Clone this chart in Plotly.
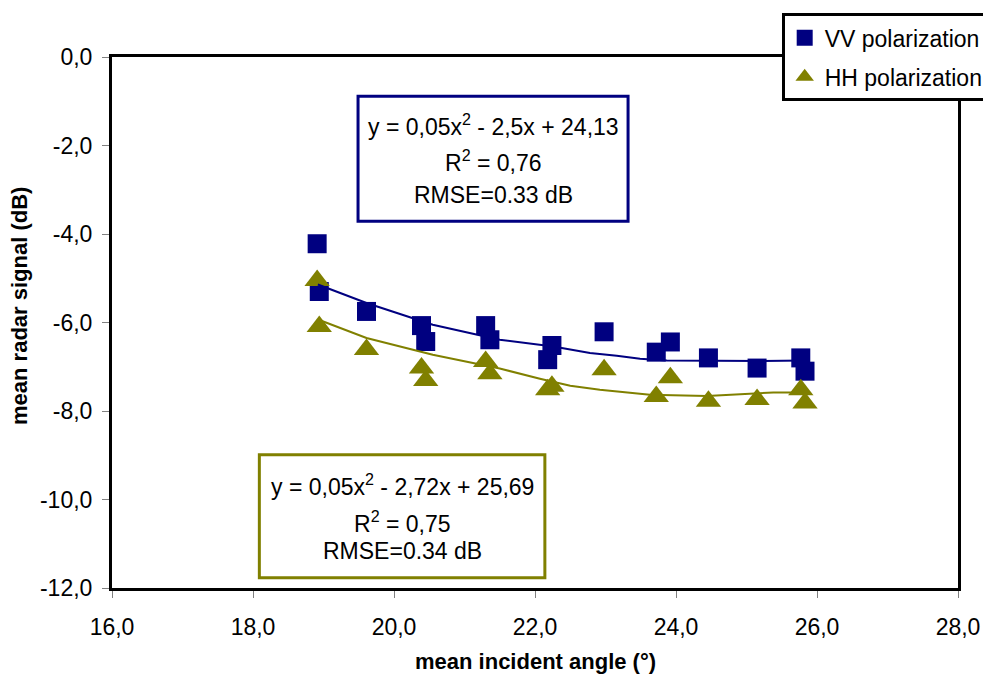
import plotly.graph_objects as go

# ---- data ----
angle = [18.91, 18.94, 19.61, 20.39, 20.45, 21.30, 21.36, 22.18, 22.24, 22.98,
         23.72, 23.92, 24.46, 25.15, 25.77, 25.83]
vv_signal = [-4.22, -5.30, -5.75, -6.07, -6.43, -6.07, -6.39, -6.84, -6.52, -6.21,
             -6.67, -6.44, -6.80, -7.03, -6.80, -7.10]
hh_signal = [-5.05, -6.09, -6.61, -7.03, -7.31, -6.88, -7.16, -7.52, -7.44, -7.07,
             -7.67, -7.25, -7.78, -7.74, -7.52, -7.82]

vv_trend_x = [18.92, 19.61, 20.55, 21.50, 22.26, 22.78, 23.16, 23.49, 23.87, 24.50, 25.20, 25.83]
vv_trend_y = [-5.14, -5.56, -6.05, -6.39, -6.54, -6.69, -6.75, -6.82, -6.86, -6.87, -6.87, -6.86]
hh_trend_x = [18.95, 19.61, 20.55, 21.50, 22.07, 22.50, 22.92, 23.20, 23.63, 24.44, 24.72, 25.38, 25.83]
hh_trend_y = [-5.95, -6.35, -6.73, -7.04, -7.27, -7.43, -7.52, -7.57, -7.63, -7.66, -7.64, -7.58, -7.58]

x_ticks = [16, 18, 20, 22, 24, 26, 28]
x_labels = ["16,0", "18,0", "20,0", "22,0", "24,0", "26,0", "28,0"]
y_ticks = [0, -2, -4, -6, -8, -10, -12]
y_labels = ["0,0", "-2,0", "-4,0", "-6,0", "-8,0", "-10,0", "-12,0"]

series_names = ["VV polarization", "HH polarization"]
vv_box_lines = ["y = 0,05x<sup>2</sup> - 2,5x + 24,13", "R<sup>2</sup> = 0,76", "RMSE=0.33 dB"]
hh_box_lines = ["y = 0,05x<sup>2</sup> - 2,72x + 25,69", "R<sup>2</sup> = 0,75", "RMSE=0.34 dB"]
x_title = "mean incident angle (°)"
y_title = "mean radar signal (dB)"

NAVY = "#000080"
OLIVE = "#808000"
FONT = "Liberation Sans, Arial, sans-serif"

fig = go.Figure()
fig.add_trace(go.Scatter(x=angle, y=vv_signal, mode="markers", name=series_names[0],
                         legendgroup="vv",
                         marker=dict(symbol="square", size=19, color=NAVY, line=dict(width=0))))
fig.add_trace(go.Scatter(x=angle, y=hh_signal, mode="markers", name=series_names[1],
                         legendgroup="hh",
                         marker=dict(symbol="triangle-up", size=22, color=OLIVE, line=dict(width=0))))
fig.add_trace(go.Scatter(x=vv_trend_x, y=vv_trend_y, mode="lines", showlegend=False,
                         line=dict(color=NAVY, width=2), hoverinfo="skip"))
fig.add_trace(go.Scatter(x=hh_trend_x, y=hh_trend_y, mode="lines", showlegend=False,
                         line=dict(color=OLIVE, width=2), hoverinfo="skip"))

axis_common = dict(showline=True, linewidth=3, linecolor="black", mirror=True,
                   ticks="outside", ticklen=7, tickwidth=1, tickcolor="#808080",
                   showgrid=False, zeroline=False,
                   tickfont=dict(family=FONT, size=23, color="black"))
fig.update_xaxes(range=[16, 28], tickmode="array", tickvals=x_ticks, ticktext=x_labels,
                 ticklabelstandoff=9, **axis_common)
fig.update_yaxes(range=[-12, 0], tickmode="array", tickvals=y_ticks, ticktext=y_labels,
                 ticklabelstandoff=5, **axis_common)

annotations = []
for txt, yv in zip(vv_box_lines, [-1.53, -2.36, -3.11]):
    annotations.append(dict(x=21.41, y=yv, xref="x", yref="y", text=txt, showarrow=False,
                            font=dict(family=FONT, size=23, color="black"),
                            xanchor="center", yanchor="middle"))
for txt, yv in zip(hh_box_lines, [-9.67, -10.50, -11.17]):
    annotations.append(dict(x=20.115, y=yv, xref="x", yref="y", text=txt, showarrow=False,
                            font=dict(family=FONT, size=23, color="black"),
                            xanchor="center", yanchor="middle"))
annotations.append(dict(x=0.5, y=-0.139, xref="paper", yref="paper",
                        text="<b>" + x_title + "</b>", showarrow=False,
                        font=dict(family=FONT, size=22, color="black"),
                        xanchor="center", yanchor="middle"))
annotations.append(dict(x=-0.11, y=0.531, xref="paper", yref="paper",
                        text="<b>" + y_title + "</b>", showarrow=False, textangle=-90,
                        font=dict(family=FONT, size=22, color="black"),
                        xanchor="center", yanchor="middle"))

shapes = [
    dict(type="rect", xref="x", yref="y", x0=19.49, x1=23.32, y0=-0.886, y1=-3.71,
         line=dict(color=NAVY, width=3), fillcolor="white", layer="below"),
    dict(type="rect", xref="x", yref="y", x0=18.09, x1=22.14, y0=-8.99, y1=-11.77,
         line=dict(color=OLIVE, width=3), fillcolor="white", layer="below"),
]

fig.update_layout(
    width=983, height=667,
    margin=dict(l=104, r=33, t=49, b=87, autoexpand=False),
    paper_bgcolor="white", plot_bgcolor="white",
    font=dict(family=FONT, size=23, color="black"),
    showlegend=True,
    legend=dict(x=0.7916, y=1.0823, xanchor="left", yanchor="top",
                bordercolor="black", borderwidth=3, bgcolor="white",
                font=dict(family=FONT, size=23, color="black"),
                traceorder="grouped", tracegroupgap=6),
    annotations=annotations,
    shapes=shapes,
)

fig.write_html("out.html")
